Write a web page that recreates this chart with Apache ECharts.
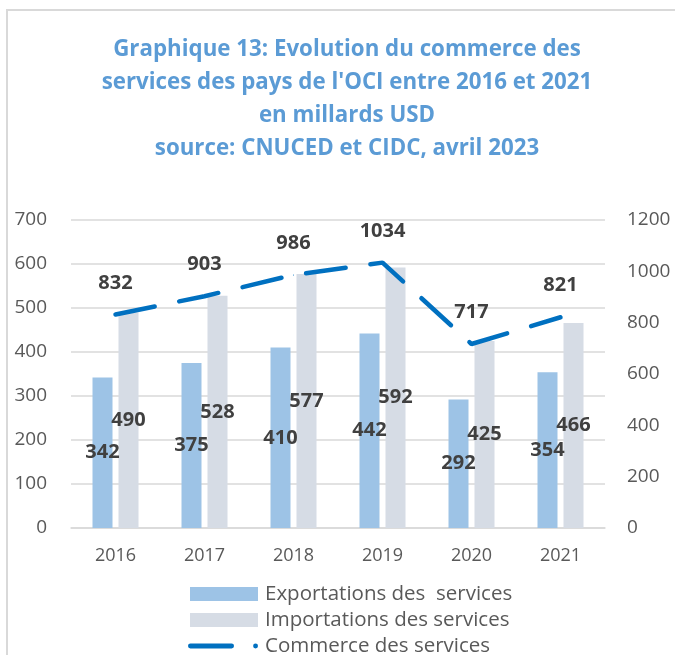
<!DOCTYPE html>
<html><head><meta charset="utf-8">
<script src="https://cdn.jsdelivr.net/npm/echarts@6/dist/echarts.min.js"></script>
<style>html,body{margin:0;padding:0;background:#fff}#c{width:675px;height:655px}</style>
</head><body><div id="c"></div>
<script>
const categories = ['2016','2017','2018','2019','2020','2021'];
const exportations = [342, 375, 410, 442, 292, 354];
const importations = [490, 528, 577, 592, 425, 466];
const commerce = [832, 903, 986, 1034, 717, 821];
const leftTicks = {min: 0, max: 700, interval: 100};
const rightTicks = {min: 0, max: 1200, interval: 200};
const titleText = "Graphique 13: Evolution du commerce des\nservices des pays de l'OCI entre 2016 et 2021\nen millards USD\nsource: CNUCED et CIDC, avril 2023";
const seriesNames = ['Exportations des  services', 'Importations des services', 'Commerce des services'];

const FONT = 'Open Sans';
const chart = echarts.init(document.getElementById('c'), null, {renderer: 'canvas'});
const barLabel = {show: true, position: 'inside', color: '#404040', fontWeight: 'bold', fontSize: 20, fontFamily: FONT};
const plain = v => String(v);
chart.setOption({
  animation: false,
  textStyle: {fontFamily: FONT},
  graphic: [{type: 'rect', shape: {x: 7, y: 10, width: 700, height: 700}, style: {fill: 'none', stroke: '#d9d9d9', lineWidth: 2}, silent: true}],
  title: {
    text: titleText, left: 342, top: 28, textAlign: 'center',
    textStyle: {color: '#5B9BD5', fontWeight: 'bold', fontSize: 22.3, lineHeight: 33, fontFamily: FONT}
  },
  grid: {left: 71, right: 70, top: 220, bottom: 127},
  legend: {
    orient: 'vertical', left: 188, top: 583, height: 100, itemWidth: 70, itemHeight: 14, itemGap: 4, padding: 0,
    textStyle: {color: '#595959', fontSize: 20.5, lineHeight: 22, fontFamily: FONT, padding: [0, 0, 0, 2]},
    data: [
      {name: seriesNames[0], icon: 'path://M0,0 L0.01,0 L0,0.01 Z M2,0 L70,0 L70,14 L2,14 Z'},
      {name: seriesNames[1], icon: 'path://M0,0 L0.01,0 L0,0.01 Z M2,0 L70,0 L70,14 L2,14 Z'},
      {name: seriesNames[2], icon: 'path://M0,0 L0.01,0 L0,0.01 Z M2.5,4.5 L44.5,4.5 A2.5,2.5 0 0,1 44.5,9.5 L2.5,9.5 A2.5,2.5 0 0,1 2.5,4.5 Z M66.5,7 A2.5,2.5 0 1,1 71.5,7 A2.5,2.5 0 1,1 66.5,7 Z M71.5,14 L71.49,14 L71.5,13.99 Z'}
    ]
  },
  xAxis: {
    type: 'category', data: categories,
    axisLine: {lineStyle: {color: '#d9d9d9', width: 1.5}},
    axisTick: {show: false},
    axisLabel: {color: '#595959', fontSize: 18, margin: 19, fontFamily: FONT}
  },
  yAxis: [
    {type: 'value', min: leftTicks.min, max: leftTicks.max, interval: leftTicks.interval,
     axisLine: {show: false}, axisTick: {show: false},
     splitLine: {lineStyle: {color: '#d9d9d9', width: 1.5}},
     axisLabel: {color: '#595959', fontSize: 19, margin: 24, fontFamily: FONT, formatter: plain}},
    {type: 'value', min: rightTicks.min, max: rightTicks.max, interval: rightTicks.interval,
     axisLine: {show: false}, axisTick: {show: false}, splitLine: {show: false},
     axisLabel: {color: '#595959', fontSize: 19, margin: 22, fontFamily: FONT, formatter: plain}}
  ],
  series: [
    {name: seriesNames[0], type: 'bar', data: exportations, barWidth: 20, barGap: '30%',
     itemStyle: {color: '#9DC3E6'}, label: barLabel},
    {name: seriesNames[1], type: 'bar', data: importations, barWidth: 20,
     itemStyle: {color: '#D6DCE5'}, label: barLabel},
    {name: seriesNames[2], type: 'line', yAxisIndex: 1, data: commerce,
     symbol: 'circle', symbolSize: 1,
     itemStyle: {color: '#0070C0'},
     lineStyle: {color: '#0070C0', width: 4.5, type: [40, 25], cap: 'round'},
     label: {show: true, position: 'top', distance: 21, color: '#404040', fontWeight: 'bold', fontSize: 20, fontFamily: FONT}}
  ]
});
</script></body></html>
